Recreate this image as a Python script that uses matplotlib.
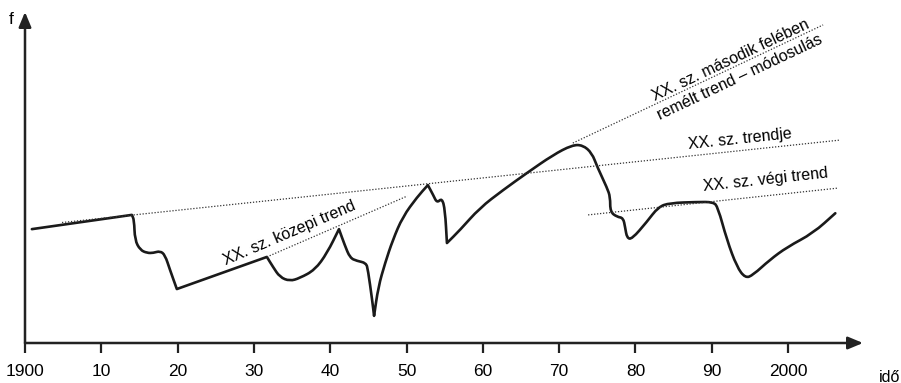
import numpy as np
import matplotlib.pyplot as plt
from matplotlib.path import Path
from matplotlib.patches import PathPatch

plt.rcParams['font.family'] = ['Liberation Sans', 'DejaVu Sans']

# Görbe (év, f)
ev = [1900.9, 1914.0, 1914.3, 1914.4, 1915.1, 1916.0, 1916.8, 1917.7, 1918.35, 1919.0,
      1919.9, 1931.7, 1932.5, 1933.4, 1934.7, 1936.0, 1938.0, 1939.6, 1941.15, 1941.9,
      1942.6, 1943.5, 1944.7, 1944.95, 1945.5, 1945.75, 1946.3, 1947.2, 1948.2, 1949.5,
      1951.4, 1952.8, 1953.5, 1954.0, 1954.65, 1955.05, 1955.3, 1957.0, 1959.6, 1962.65,
      1965.8, 1969.2, 1971.7, 1973.1, 1974.3, 1975.0, 1976.3, 1976.7, 1976.7, 1977.6,
      1978.4, 1978.65, 1978.9, 1979.55, 1981.5, 1983.0, 1984.5, 1988.1, 1990.2, 1990.8,
      1992.0, 1993.3, 1994.4, 1995.4, 1997.6, 1999.9, 2003.3, 2006.2]
f = [34.4, 38.7, 37.2, 31.1, 28.1, 27.2, 27.2, 27.8, 26.6, 22.1,
     16.3, 26.0, 23.0, 19.9, 18.7, 19.6, 22.1, 27.2, 34.4, 29.6,
     25.7, 24.8, 24.2, 22.1, 13.0, 8.2, 16.9, 24.2, 31.1, 38.1,
     44.1, 47.7, 44.7, 42.3, 43.8, 40.2, 30.2, 34.1, 40.8, 46.2,
     51.4, 56.8, 59.8, 59.8, 57.4, 53.2, 46.8, 44.1, 39.6, 38.1,
     37.8, 35.0, 31.7, 31.4, 36.6, 41.1, 42.3, 42.6, 42.6, 41.1,
     31.1, 23.0, 19.6, 20.5, 25.1, 29.0, 33.2, 39.2]
# éles törések helye (indexek a görbén)
sarkok = [1, 10, 11, 18, 25, 31, 36]

# Trendvonalak: (kezdő év, kezdő f, záró év, záró f)
trendje = (1904.85, 36.4, 2006.8, 61.3)
kozepi = (1931.7, 26.0, 1950.1, 44.4)
remelt = (1971.8, 60.4, 2004.6, 96.1)
vegi = (1973.8, 38.7, 2006.55, 46.8)

tick_evek = [1900, 1910, 1920, 1930, 1940, 1950, 1960, 1970, 1980, 1990, 2000]
tick_cimkek = ['1900', '10', '20', '30', '40', '50', '60', '70', '80', '90', '2000']


def sima_ut(xs, ys, sarok):
    # kvadratikus Bézier a szomszédos pontok felezőpontjain át
    p = [(x, y) for x, y in zip(xs, ys)]
    pts = [p[0]]
    for i in range(1, len(p) - 1):
        pts.append(p[i])
        if i in sarok:
            pts.append(p[i])
    pts.append(p[-1])
    pts = np.array(pts)
    verts = [pts[0], (pts[0] + pts[1]) / 2]
    codes = [Path.MOVETO, Path.LINETO]
    for i in range(1, len(pts) - 1):
        verts += [pts[i], (pts[i] + pts[i + 1]) / 2]
        codes += [Path.CURVE3, Path.CURVE3]
    verts.append(pts[-1])
    codes.append(Path.LINETO)
    return Path(verts, codes)


W, H = 901, 383
fig = plt.figure(figsize=(W / 100, H / 100), dpi=100)
ax = fig.add_axes([25 / W, 40 / H, 838 / W, 331 / H])
ax.set_xlim(1900, 1900 + 838 / 7.63)
ax.set_ylim(0, 100)
for s in ax.spines.values():
    s.set_visible(False)
ax.set_yticks([])
ax.set_xticks(tick_evek)
ax.set_xticklabels(tick_cimkek, fontsize=12.5)
ax.tick_params(axis='x', direction='out', length=7, width=1.6, color='#222222', pad=8)

# Tengelyek nyíllal
nyil = dict(arrowstyle='-|>,head_length=0.6,head_width=0.25', lw=1.8, color='#222222',
            mutation_scale=15, shrinkA=0, shrinkB=0)
ax.annotate('', xy=(1, 0), xytext=(0, 0), xycoords='axes fraction', arrowprops=nyil)
ax.annotate('', xy=(0, 1), xytext=(0, 0), xycoords='axes fraction', arrowprops=nyil)

# Trendek pontozott vonallal
for t in (trendje, kozepi, remelt, vegi):
    ax.plot([t[0], t[2]], [t[1], t[3]], color='#333333', lw=0.9, ls=(0, (1, 1.4)))

ax.add_patch(PathPatch(sima_ut(ev, f, sarkok), fill=False, edgecolor='#1a1a1a', lw=1.9,
                       joinstyle='round', capstyle='round'))

fs = 11.5
ax.text(1934.7, 33.2, 'XX. sz. közepi trend', rotation=23.2, ha='center', va='center',
        rotation_mode='anchor', fontsize=fs)
ax.text(1993.7, 61.6, 'XX. sz. trendje', rotation=6.0, ha='center', va='center',
        rotation_mode='anchor', fontsize=fs)
ax.text(1997.0, 49.2, 'XX. sz. végi trend', rotation=6.2, ha='center', va='center',
        rotation_mode='anchor', fontsize=fs)
ax.text(1992.5, 85.5, 'XX. sz. második felében', rotation=25.3, ha='center', va='center',
        rotation_mode='anchor', fontsize=fs)
ax.text(1993.7, 80.4, 'remélt trend – módosulás', rotation=25.3, ha='center', va='center',
        rotation_mode='anchor', fontsize=fs)

fig.text(11 / W, 1 - 20 / H, 'f', ha='center', va='center', fontsize=12.5)
fig.text(890 / W, 1 - 377 / H, 'idő', ha='center', va='center', fontsize=11.5)

fig.savefig('out.png', dpi=100)
